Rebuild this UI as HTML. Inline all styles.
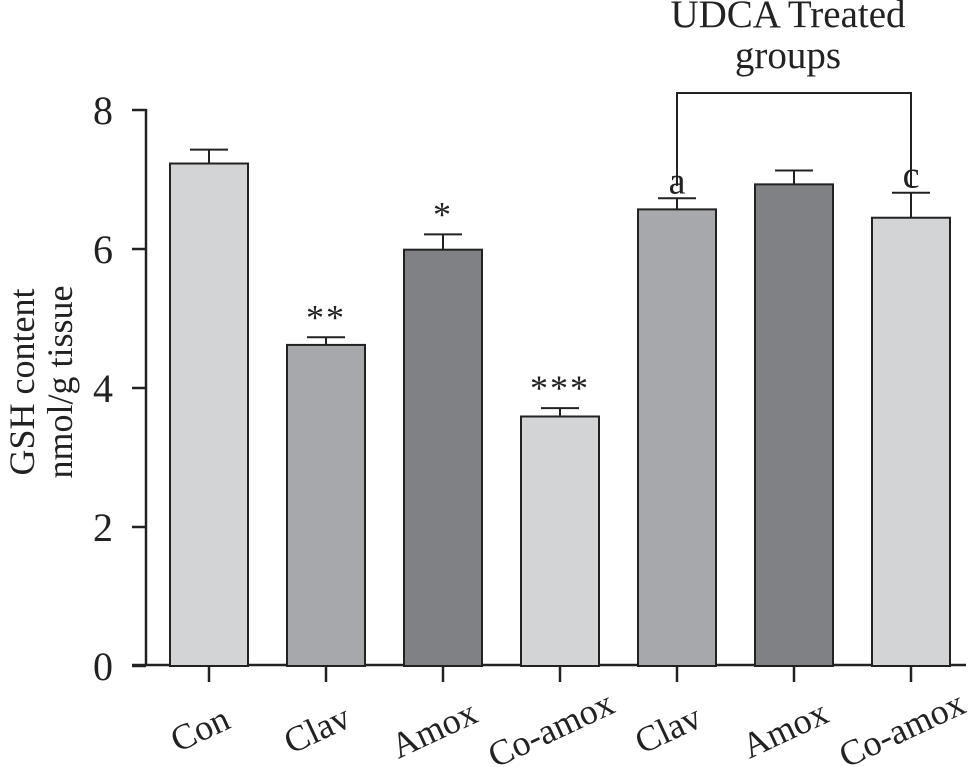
<!DOCTYPE html>
<html><head><meta charset="utf-8"><style>
html,body{margin:0;padding:0;background:#fff;}
svg{display:block;font-family:"Liberation Serif",serif;}
</style></head><body>
<svg id="chart" width="971" height="767" viewBox="0 0 971 767"></svg>
<script>
const categories = ["Con","Clav","Amox","Co-amox","Clav","Amox","Co-amox"];
const values = [7.23, 4.62, 5.99, 3.59, 6.57, 6.93, 6.45];
const errors = [0.20, 0.11, 0.22, 0.12, 0.16, 0.20, 0.36];
const sigLabels = ["", "**", "*", "***", "a", "", "c"];
const yTicks = [0, 2, 4, 6, 8];
const colors = ["#d3d4d6","#a7a8ab","#808185","#d3d4d6","#a7a8ab","#808185","#d3d4d6"];

const NS = "http://www.w3.org/2000/svg";
const svg = document.getElementById("chart");
const y = v => 666 - v * 69.5;
const xc = i => 209 + i * 117;
const barW = 78;
function mk(tag, attrs, parent) {
  const e = document.createElementNS(NS, tag);
  for (const k in attrs) e.setAttribute(k, attrs[k]);
  (parent || svg).appendChild(e);
  return e;
}
let e;
e = mk("line", {x1:146, y1:109, x2:146, y2:666, stroke:"#222", "stroke-width":2.5});


e = mk("line", {x1:132, y1:665, x2:966, y2:665, stroke:"#222", "stroke-width":2.5});


yTicks.forEach(t => {
  const ty = y(t);
  e = mk("line", {x1:132, y1:ty, x2:146, y2:ty, stroke:"#222", "stroke-width":2.5});
  
  
  e = mk("text", {x:113, y:ty + 14, "text-anchor":"end", "font-size":40, fill:"#222"});
  e.textContent = t;
  
  
});
categories.forEach((c, i) => {
  const cx = xc(i), top = y(values[i]), et = y(values[i] + errors[i]);
  e = mk("line", {x1:cx, y1:et, x2:cx, y2:top, stroke:"#222", "stroke-width":2});
  
  
  e = mk("line", {x1:cx - 19, y1:et, x2:cx + 19, y2:et, stroke:"#222", "stroke-width":2});
  
  
  e = mk("rect", {x:cx - barW/2, y:top, width:barW, height:666 - top, fill:colors[i], stroke:"#222", "stroke-width":2});
  
  
  e = mk("line", {x1:cx, y1:665, x2:cx, y2:682, stroke:"#222", "stroke-width":2.5});
  
  
  e = mk("text", {x:0, y:0, "text-anchor":"middle", "font-size":36, fill:"#222", transform:`translate(${cx - 4},${740}) rotate(-25)`});
  e.textContent = c;
  
  
  if (sigLabels[i]) {
    const star = sigLabels[i].includes("*");
    e = mk("text", {x:cx, y:et - (star ? 8 : 5), "text-anchor":"middle", "font-size":star ? 36 : 38, fill:"#222", "letter-spacing": star ? 2 : 0});
    e.textContent = sigLabels[i];
    
    
  }
});
e = mk("polyline", {points:`${xc(4)},186 ${xc(4)},93 ${xc(6)},93 ${xc(6)},186`, fill:"none", stroke:"#222", "stroke-width":2});


e = mk("text", {x:788, y:27, "text-anchor":"middle", "font-size":39, fill:"#222"});
e.textContent = "UDCA Treated";


e = mk("text", {x:788, y:68, "text-anchor":"middle", "font-size":39, fill:"#222"});
e.textContent = "groups";


e = mk("text", {x:0, y:0, "text-anchor":"middle", "font-size":36, fill:"#222", transform:"translate(34,382) rotate(-90)"});
e.textContent = "GSH content";


e = mk("text", {x:0, y:0, "text-anchor":"middle", "font-size":36, fill:"#222", transform:"translate(72,382) rotate(-90)"});
e.textContent = "nmol/g tissue";


</script>
</body></html>
